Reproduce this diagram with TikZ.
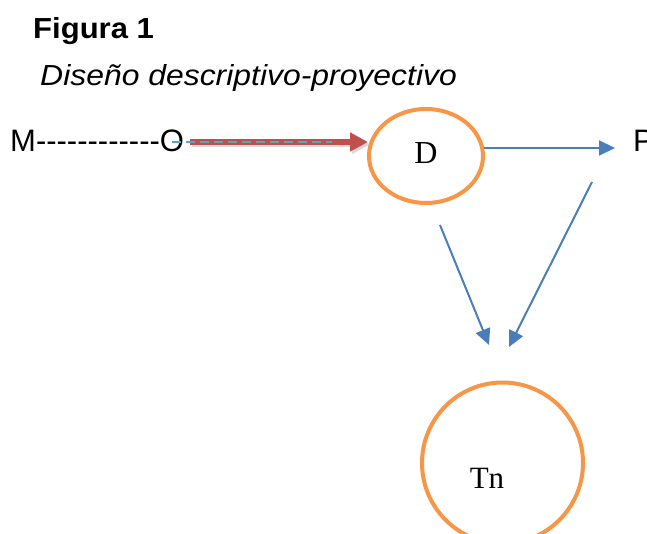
\documentclass[tikz,border=0pt]{standalone}
\usepackage{fontspec}
\setmainfont{Liberation Serif}
\newfontfamily\arialf{Liberation Sans}
\usetikzlibrary{arrows.meta,shapes.geometric}
\definecolor{orng}{HTML}{F79646}
\definecolor{blu}{HTML}{4A7EBB}
\definecolor{redd}{HTML}{C0504D}
\definecolor{cyn}{HTML}{4BACC6}
\tikzset{
  sanstext/.style={inner sep=0pt, font=\arialf\fontsize{31}{34}\selectfont},
  sertext/.style={inner sep=0pt, font=\fontsize{31}{34}\selectfont},
  ring/.style={draw=orng, line width=4pt},
  bluarrow/.style={draw=blu, line width=2pt, -{Triangle[length=16pt,width=15pt]}},
}
\begin{document}
\begin{tikzpicture}[x=1pt,y=-1pt]
\useasboundingbox[fill=white] (0,0) rectangle (647,534);
% titles
\node[sanstext, anchor=base west, xscale=1.07, font=\arialf\bfseries\fontsize{29}{32}\selectfont] (fig) at (33,39) {Figura 1};
\node[sanstext, anchor=base west, xscale=1.1, font=\arialf\itshape\fontsize{29}{32}\selectfont] (sub) at (40,86) {Diseño descriptivo-proyectivo};
% M---O
\node[sanstext, anchor=base west] (mo) at (10,152) {M------------O};
% D ellipse
\node[ring, ellipse, minimum width=114pt, minimum height=94pt, inner sep=0pt] (d) at (426,156) {};
\node[sertext, anchor=base, font=\fontsize{32}{34}\selectfont] (dl) at (426,164) {D};
% P
\node[sanstext, anchor=base west] (p) at (633,152) {P};
% Tn circle
\node[ring, circle, minimum size=161pt, inner sep=0pt] (tn) at (502.5,463) {};
\node[sertext, anchor=base] (tnl) at (487,488) {Tn};
% coordinates
\coordinate (rs) at (190,142);
\coordinate (re) at (368,142);
\coordinate (cs) at (172,142);
\coordinate (ce) at (332,142);
\coordinate (dp1) at (484,148);
\coordinate (dp2) at (615,148);
\coordinate (a1s) at (440,225);
\coordinate (a1e) at (489,345);
\coordinate (a2s) at (592,182);
\coordinate (a2e) at (509,347);
% red arrow with shadow
\draw[black!25, line width=5.5pt, -{Triangle[length=18pt,width=18pt]}, opacity=0.6] ([shift={(2,2.5)}]rs) -- ([shift={(2,2.5)}]re);
\draw[redd, line width=5.5pt, -{Triangle[length=18pt,width=18pt]}] (rs) -- (re);
\draw[cyn, line width=1.8pt, dash pattern=on 9pt off 5pt] (cs) -- (ce);
% blue arrows
\draw[bluarrow] (dp1) -- (dp2);
\draw[bluarrow] (a1s) -- (a1e);
\draw[bluarrow] (a2s) -- (a2e);
\end{tikzpicture}
\end{document}
